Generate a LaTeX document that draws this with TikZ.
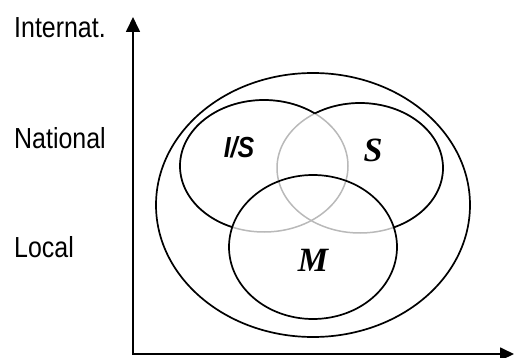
\documentclass[tikz,border=0pt]{standalone}
\usepackage{fontspec}
\setmainfont{Liberation Serif}
\newfontfamily\axisfont[FakeStretch=0.86]{Liberation Sans}
\usetikzlibrary{arrows.meta}

% the three overlapping sets
\newcommand{\setIS}{(264,166) ellipse [x radius=84pt, y radius=66pt]}
\newcommand{\setS}{(360,168) ellipse [x radius=83pt, y radius=65pt]}
\newcommand{\setM}{(313,247) ellipse [x radius=84pt, y radius=72pt]}

\begin{document}
\begin{tikzpicture}[x=1pt,y=-1pt]
% How the pieces look
\tikzstyle{axis_label} = [anchor=west, inner sep=0pt, font=\axisfont\fontsize{29}{32}\selectfont]
\tikzstyle{set_label} = [inner sep=0pt, font=\bfseries\itshape\fontsize{34}{38}\selectfont]
\tikzstyle{arrow} = [line width=1.7pt,{Triangle[length=15pt,width=14pt]}-{Triangle[length=14pt,width=13pt]}]
\tikzstyle{ring} = [draw=black, line width=1.7pt]
\tikzstyle{faded} = [draw=gray!55, line width=1.5pt]
\useasboundingbox (0,0) rectangle (514,358);

% Axes
\coordinate (y_end) at (133,17);
\coordinate (x_end) at (514,354);
\draw [arrow] (y_end) |- (x_end);

\node (internat) [axis_label] at (14,28) {Internat.};
\node (national) [axis_label] at (14,138) {National};
\node (local) [axis_label] at (14,247) {Local};

% Outer set
\draw [ring] (313,205) ellipse [x radius=157pt, y radius=132pt];

% Overlaps first in grey
\draw [faded] \setIS;
\draw [faded] \setS;

% Black where the set lies outside the others
\begin{scope}[even odd rule]
\clip (0,0) rectangle (514,358) \setS;
\clip (0,0) rectangle (514,358) \setM;
\draw [ring] \setIS;
\end{scope}
\begin{scope}[even odd rule]
\clip (0,0) rectangle (514,358) \setIS;
\clip (0,0) rectangle (514,358) \setM;
\draw [ring] \setS;
\end{scope}
\draw [ring] \setM;

\node (is_label) [set_label, font=\axisfont\bfseries\itshape\fontsize{29}{32}\selectfont] at (239,147) {I/S};
\node (s_label) [set_label] at (373,150) {S};
\node (m_label) [set_label] at (313,260) {M};
\end{tikzpicture}
\end{document}
